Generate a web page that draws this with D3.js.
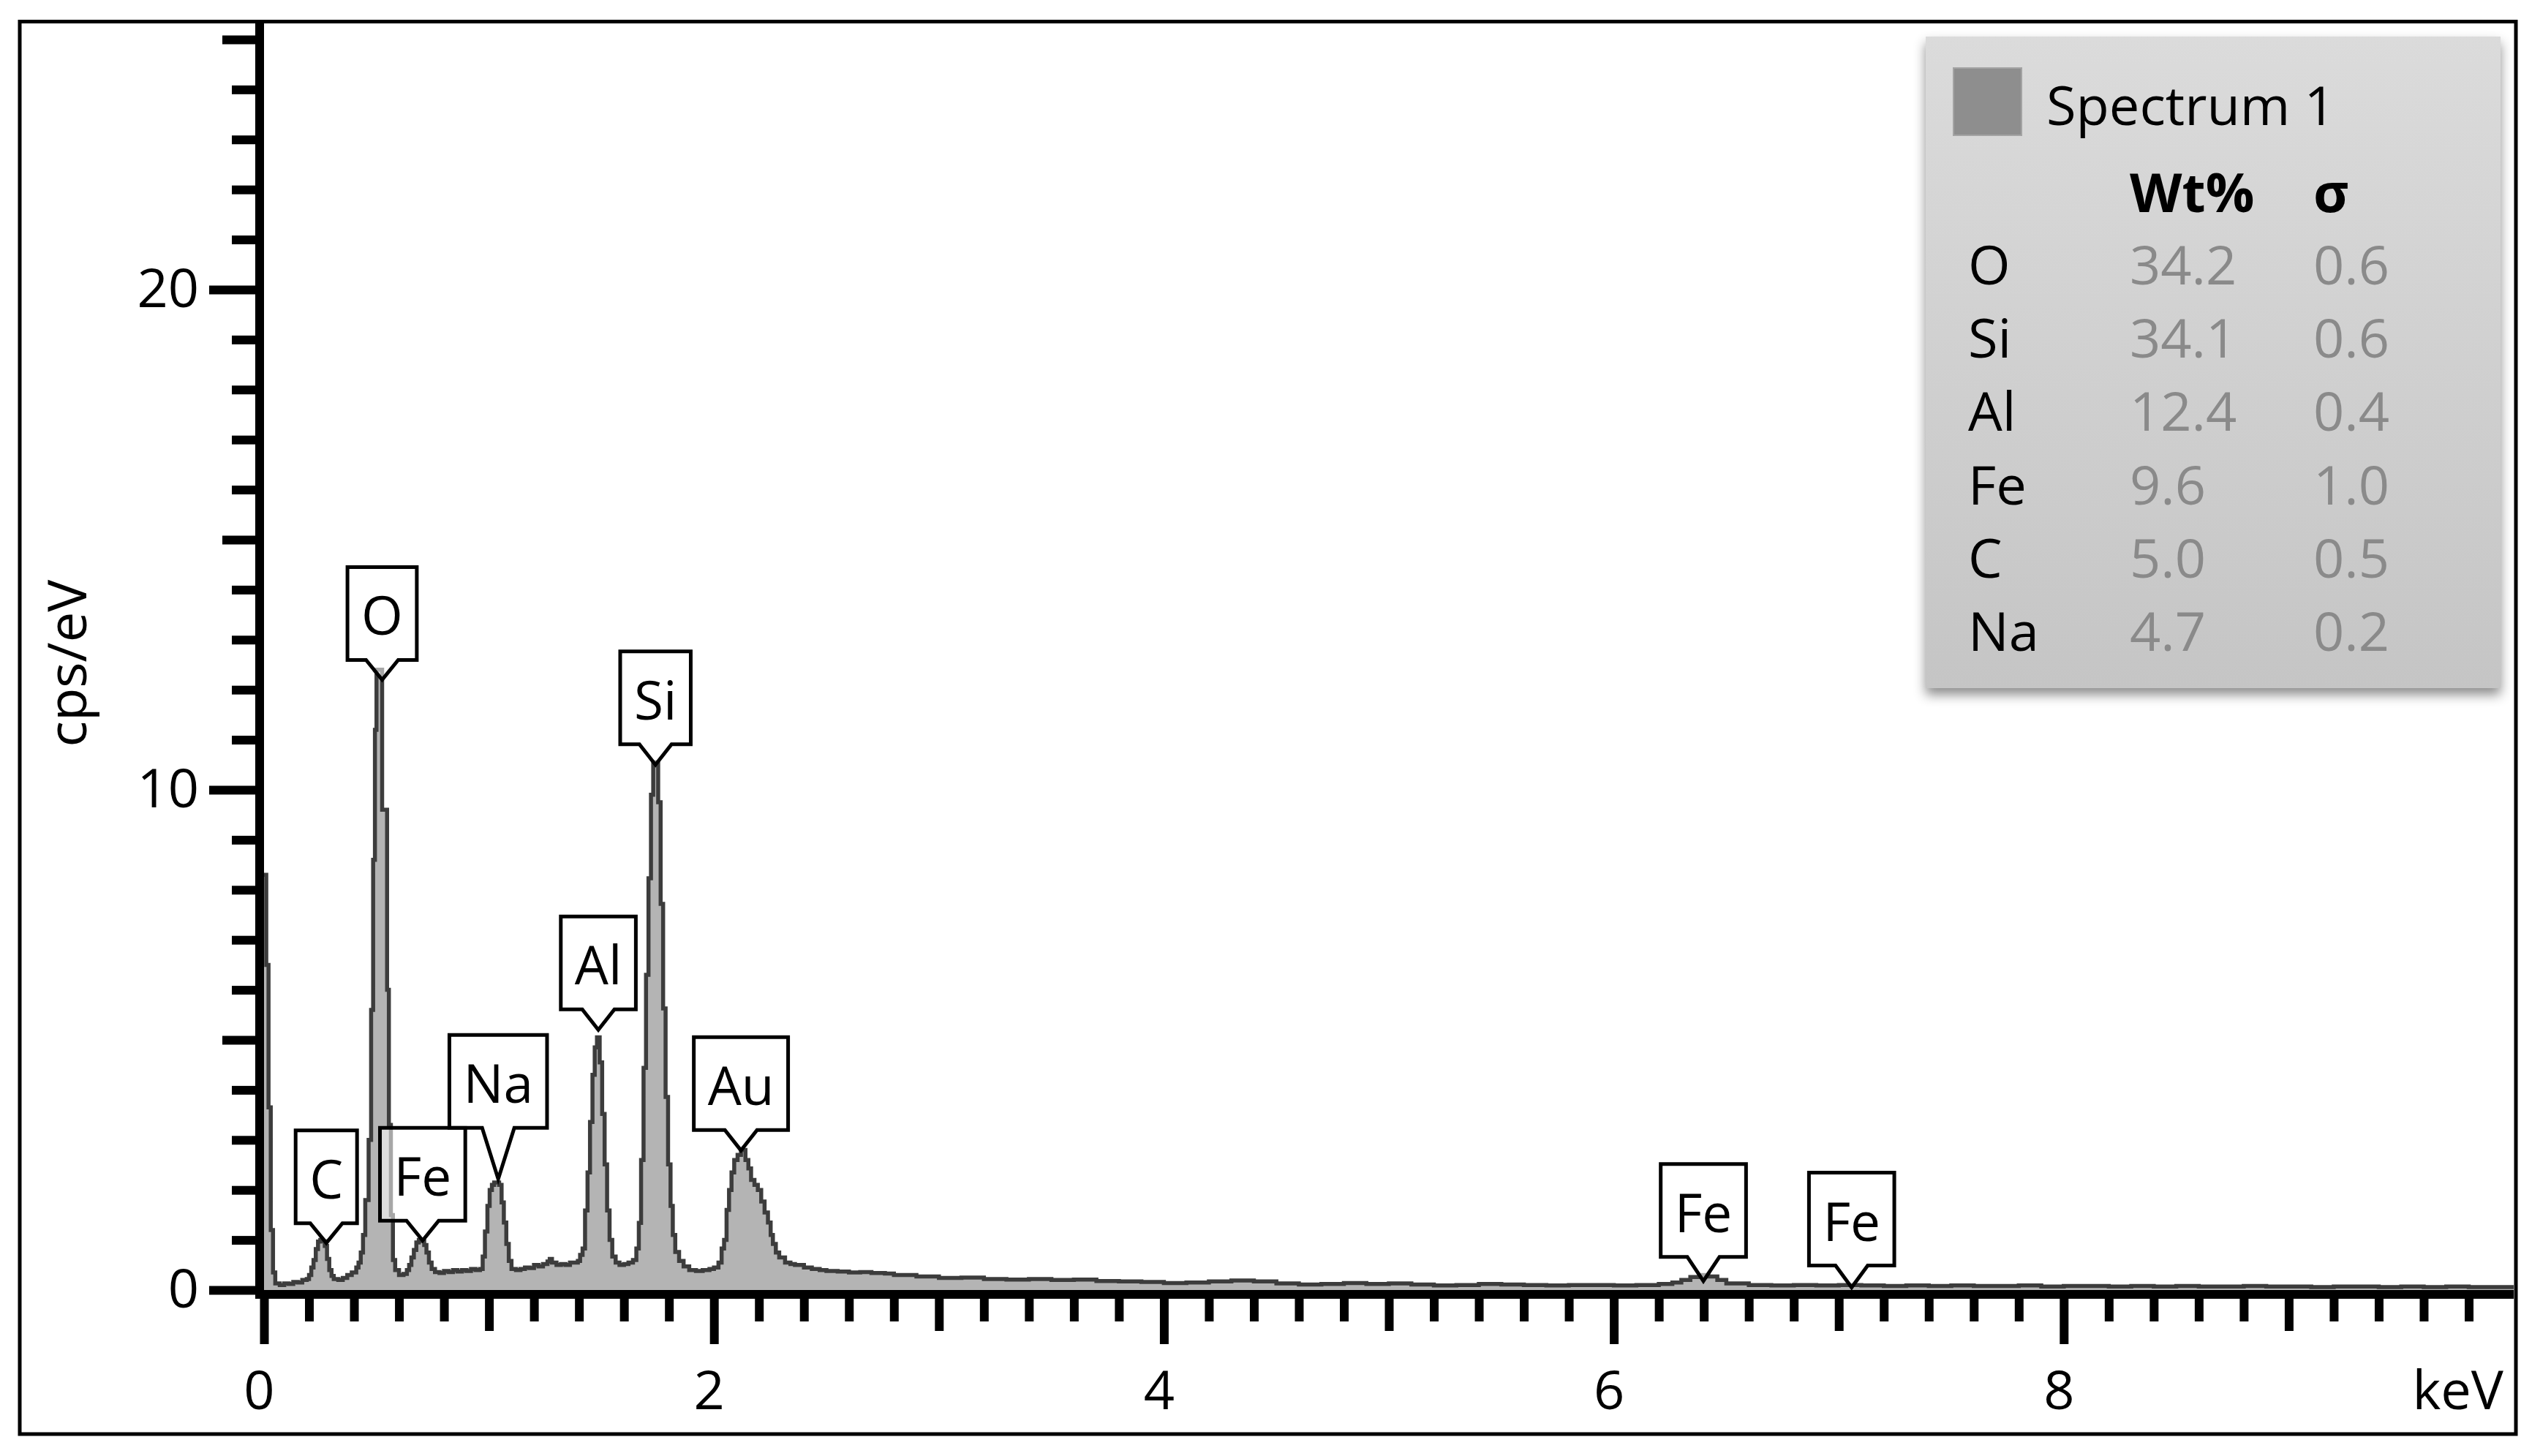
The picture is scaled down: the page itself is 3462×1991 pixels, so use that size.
<!DOCTYPE html>
<html>
<head>
<meta charset="utf-8">
<script src="https://cdn.jsdelivr.net/npm/d3@7"></script>
<style>
  html, body { margin: 0; padding: 0; background: #fff; }
  svg { display: block; font-family: "Open Sans", "Noto Sans", sans-serif; }
</style>
</head>
<body>
<div id="chart"></div>
<script>
// EDS spectrum, bin start energy (keV) and intensity (cps/eV)
const energy = [
  0.000, 0.010, 0.020, 0.030, 0.040, 0.050, 0.070, 0.090, 0.110, 0.130, 0.150, 0.170, 0.190,
  0.200, 0.210, 0.220, 0.230, 0.240, 0.250, 0.260, 0.270, 0.280, 0.290, 0.300, 0.310, 0.330,
  0.350, 0.370, 0.390, 0.410, 0.420, 0.430, 0.440, 0.450, 0.465, 0.476, 0.485, 0.493, 0.500,
  0.525, 0.547, 0.555, 0.564, 0.573, 0.583, 0.600, 0.620, 0.635, 0.645, 0.655, 0.666, 0.677,
  0.688, 0.700, 0.712, 0.722, 0.733, 0.745, 0.760, 0.780, 0.800, 0.820, 0.840, 0.860, 0.880,
  0.900, 0.920, 0.940, 0.960, 0.972, 0.982, 0.993, 1.003, 1.013, 1.023, 1.045, 1.056, 1.066,
  1.077, 1.088, 1.100, 1.120, 1.140, 1.160, 1.180, 1.200, 1.220, 1.240, 1.260, 1.270, 1.280,
  1.300, 1.320, 1.340, 1.360, 1.380, 1.395, 1.405, 1.416, 1.427, 1.438, 1.449, 1.460, 1.470,
  1.480, 1.492, 1.503, 1.514, 1.525, 1.536, 1.548, 1.563, 1.580, 1.600, 1.620, 1.640, 1.655,
  1.666, 1.676, 1.687, 1.698, 1.709, 1.720, 1.730, 1.752, 1.763, 1.774, 1.785, 1.796, 1.807,
  1.817, 1.828, 1.845, 1.865, 1.890, 1.920, 1.950, 1.980, 2.000, 2.020, 2.034, 2.045, 2.056,
  2.067, 2.078, 2.090, 2.105, 2.120, 2.140, 2.153, 2.165, 2.180, 2.195, 2.210, 2.225, 2.240,
  2.252, 2.262, 2.275, 2.290, 2.316, 2.340, 2.360, 2.400, 2.435, 2.470, 2.500, 2.550, 2.600,
  2.650, 2.700, 2.760, 2.800, 2.900, 3.000, 3.100, 3.200, 3.300, 3.400, 3.500, 3.600, 3.700,
  3.800, 3.900, 4.000, 4.100, 4.200, 4.300, 4.400, 4.500, 4.600, 4.700, 4.800, 4.900, 5.000,
  5.100, 5.200, 5.300, 5.400, 5.500, 5.600, 5.700, 5.800, 5.900, 6.000, 6.100, 6.200, 6.260,
  6.300, 6.340, 6.380, 6.420, 6.460, 6.500, 6.600, 6.700, 6.800, 6.900, 7.000, 7.100, 7.200,
  7.300, 7.400, 7.500, 7.600, 7.700, 7.800, 7.900, 8.000, 8.100, 8.200, 8.300, 8.400, 8.500,
  8.600, 8.700, 8.800, 8.900, 9.000, 9.100, 9.200, 9.300, 9.400, 9.500, 9.600, 9.700, 9.800,
  9.900
];
const counts = [
  8.30, 6.50, 3.65, 1.20, 0.35, 0.13, 0.10, 0.13, 0.12, 0.16, 0.15, 0.20, 0.22,
  0.30, 0.45, 0.60, 0.82, 0.97, 1.00, 0.98, 0.88, 0.62, 0.40, 0.28, 0.22, 0.20,
  0.24, 0.30, 0.35, 0.45, 0.55, 0.75, 1.10, 1.80, 3.00, 5.60, 8.60, 11.20, 12.40,
  9.60, 6.00, 3.30, 1.50, 0.60, 0.40, 0.30, 0.32, 0.40, 0.50, 0.65, 0.80, 0.95,
  1.00, 0.98, 0.90, 0.75, 0.55, 0.42, 0.36, 0.34, 0.38, 0.36, 0.40, 0.37, 0.40,
  0.38, 0.42, 0.40, 0.42, 0.67, 1.17, 1.68, 2.00, 2.10, 2.15, 2.10, 1.75, 1.35,
  0.92, 0.58, 0.42, 0.40, 0.42, 0.45, 0.44, 0.50, 0.47, 0.52, 0.57, 0.62, 0.55,
  0.50, 0.52, 0.50, 0.55, 0.55, 0.58, 0.70, 0.83, 1.59, 2.35, 3.36, 4.30, 4.85,
  5.05, 4.55, 3.52, 2.51, 1.59, 1.00, 0.67, 0.55, 0.50, 0.52, 0.55, 0.60, 0.83,
  1.34, 2.60, 4.44, 6.30, 8.23, 9.90, 10.55, 9.75, 7.72, 5.63, 3.86, 2.51, 1.68,
  1.10, 0.76, 0.58, 0.47, 0.40, 0.38, 0.40, 0.42, 0.45, 0.55, 0.83, 1.00, 1.60,
  2.00, 2.35, 2.60, 2.70, 2.80, 2.60, 2.43, 2.20, 2.10, 2.00, 1.77, 1.55, 1.35,
  1.10, 0.92, 0.75, 0.65, 0.55, 0.52, 0.50, 0.45, 0.42, 0.40, 0.38, 0.37, 0.35,
  0.36, 0.34, 0.33, 0.30, 0.27, 0.24, 0.25, 0.22, 0.21, 0.22, 0.20, 0.21, 0.18,
  0.17, 0.16, 0.14, 0.15, 0.17, 0.19, 0.17, 0.13, 0.11, 0.12, 0.14, 0.12, 0.13,
  0.11, 0.09, 0.10, 0.12, 0.11, 0.10, 0.09, 0.10, 0.10, 0.09, 0.10, 0.12, 0.15,
  0.20, 0.26, 0.30, 0.27, 0.20, 0.13, 0.10, 0.09, 0.10, 0.09, 0.10, 0.09, 0.08,
  0.09, 0.08, 0.09, 0.08, 0.08, 0.09, 0.07, 0.08, 0.08, 0.07, 0.08, 0.07, 0.08,
  0.07, 0.07, 0.08, 0.07, 0.07, 0.06, 0.07, 0.07, 0.06, 0.07, 0.06, 0.07, 0.06,
  0.06
];

// peak markers
const peakNames = ['C', 'O', 'Fe', 'Na', 'Al', 'Si', 'Au', 'Fe', 'Fe'];
const peakEnergy = [0.277, 0.525, 0.705, 1.041, 1.486, 1.740, 2.120, 6.398, 7.057];
const peakTop = [0.94, 12.2, 0.99, 2.22, 5.2, 10.5, 2.79, 0.18, 0.05];

// quantification table
const seriesName = 'Spectrum 1';
const elements = ['O', 'Si', 'Al', 'Fe', 'C', 'Na'];
const wtPercent = ['34.2', '34.1', '12.4', '9.6', '5.0', '4.7'];
const sigma = ['0.6', '0.6', '0.4', '1.0', '0.5', '0.2'];

const xLabels = [0, 2, 4, 6, 8];
const yLabels = [0, 10, 20];

const W = 3462, H = 1991;
const FONT = 74;

const svg = d3.select('#chart').append('svg')
  .attr('width', W)
  .attr('height', H);

const defs = svg.append('defs');
const grad = defs.append('linearGradient').attr('id', 'legendFill')
  .attr('x1', 0).attr('y1', 0).attr('x2', 0).attr('y2', 1);
grad.append('stop').attr('offset', '0%').attr('stop-color', '#dbdbdb');
grad.append('stop').attr('offset', '100%').attr('stop-color', '#c5c5c5');
defs.append('filter').attr('id', 'shadow')
  .attr('x', '-10%').attr('y', '-10%').attr('width', '120%').attr('height', '125%')
  .append('feDropShadow')
  .attr('dx', 0).attr('dy', 9).attr('stdDeviation', 8)
  .attr('flood-color', '#000').attr('flood-opacity', 0.45);

// scales
const x = d3.scaleLinear().domain([0, 10]).range([361, 3437]);
const y = d3.scaleLinear().domain([0, 25.35]).range([1764, 30]);

// spectrum
const spectrum = energy.map((e, i) => ({e: e, v: counts[i]}));
spectrum.push({e: 10, v: counts[counts.length - 1]});

const area = d3.area()
  .x(d => x(d.e))
  .y0(y(0))
  .y1(d => y(d.v))
  .curve(d3.curveStepAfter);
const line = d3.line()
  .x(d => x(d.e))
  .y(d => y(d.v))
  .curve(d3.curveStepAfter);

svg.append('path')
  .datum(spectrum)
  .attr('d', area)
  .attr('fill', '#b4b4b4');
svg.append('path')
  .datum(spectrum)
  .attr('d', line)
  .attr('fill', 'none')
  .attr('stroke', '#3c3c3c')
  .attr('stroke-width', 5.5)
  .attr('stroke-linejoin', 'miter');

// outer frame
svg.append('rect')
  .attr('x', 27).attr('y', 29.5)
  .attr('width', 3413).attr('height', 1931.5)
  .attr('fill', 'none')
  .attr('stroke', '#000')
  .attr('stroke-width', 5);

// y axis
const yAxis = d3.axisLeft(y)
  .tickValues(d3.range(0, 26))
  .tickSize(32)
  .tickFormat(d => yLabels.includes(d) ? d : '');
const gy = svg.append('g')
  .attr('transform', 'translate(349,0)')
  .call(yAxis);
gy.select('.domain').remove();
gy.attr('font-size', FONT).attr('font-family', null);
gy.selectAll('.tick line')
  .attr('stroke', '#000')
  .attr('stroke-width', 12)
  .attr('x2', d => d % 10 === 0 ? -63 : (d % 5 === 0 ? -45 : -32));
gy.selectAll('.tick text')
  .attr('x', -77)
  .attr('fill', '#000');

// x axis
const xAxis = d3.axisBottom(x)
  .tickValues(d3.range(0, 50).map(i => i / 5))
  .tickSize(31)
  .tickFormat(d => xLabels.includes(d) ? d : '');
const gx = svg.append('g')
  .attr('transform', 'translate(0,1776)')
  .call(xAxis);
gx.select('.domain').remove();
gx.attr('font-size', FONT).attr('font-family', null);
gx.selectAll('.tick line')
  .attr('stroke', '#000')
  .attr('stroke-width', 12)
  .attr('y2', d => Number.isInteger(d) ? (d % 2 === 0 ? 62 : 44) : 31);
gx.selectAll('.tick text')
  .attr('y', 151)
  .attr('dy', 0)
  .attr('dx', -7)
  .attr('fill', '#000');

// heavy axis lines
svg.append('line')
  .attr('x1', 355).attr('x2', 355)
  .attr('y1', 29).attr('y2', 1776)
  .attr('stroke', '#000').attr('stroke-width', 12);
svg.append('line')
  .attr('x1', 349).attr('x2', x(10))
  .attr('y1', 1770).attr('y2', 1770)
  .attr('stroke', '#000').attr('stroke-width', 12);

// axis titles
svg.append('text')
  .attr('x', 3423).attr('y', 1927)
  .attr('text-anchor', 'end')
  .attr('font-size', FONT)
  .text('keV');
svg.append('text')
  .attr('transform', 'translate(118,907) rotate(-90)')
  .attr('text-anchor', 'middle')
  .attr('font-size', FONT)
  .text('cps/eV');

// peak callouts
const lift = [27, 27, 27, 70, 28, 28, 28, 33, 30];
const notch = 22, pad = 19, boxH = 127;
peakNames.forEach((name, i) => {
  const tx = x(peakEnergy[i]);
  const ty = y(peakTop[i]);
  const g = svg.append('g');
  const path = g.append('path');
  const label = g.append('text')
    .attr('x', tx)
    .attr('text-anchor', 'middle')
    .attr('font-size', 73)
    .text(name);
  const w = label.node().getComputedTextLength() + 2 * pad;
  const bottom = ty - lift[i];
  const top = bottom - boxH;
  const left = tx - w / 2, right = tx + w / 2;
  path.attr('d', `M${left},${top}H${right}V${bottom}H${tx + notch}L${tx},${ty}L${tx - notch},${bottom}H${left}Z`)
    .attr('fill', '#fff')
    .attr('fill-opacity', 0.55)
    .attr('stroke', '#000')
    .attr('stroke-width', 5)
    .attr('stroke-linejoin', 'miter');
  label.attr('y', bottom - 34);
});

// legend / quantification panel
const lg = svg.append('g');
lg.append('rect')
  .attr('x', 2633).attr('y', 50)
  .attr('width', 786).attr('height', 891)
  .attr('fill', 'url(#legendFill)')
  .attr('filter', 'url(#shadow)');
lg.append('rect')
  .attr('x', 2671).attr('y', 93)
  .attr('width', 93).attr('height', 92)
  .attr('fill', '#8e8e8e')
  .attr('stroke', '#a3a3a3')
  .attr('stroke-width', 2);
lg.append('text')
  .attr('x', 2798).attr('y', 171)
  .attr('font-size', FONT)
  .text(seriesName);
lg.append('text')
  .attr('x', 2912).attr('y', 290)
  .attr('font-size', FONT).attr('font-weight', 'bold')
  .text('Wt%');
lg.append('text')
  .attr('x', 3163).attr('y', 290)
  .attr('font-size', FONT).attr('font-weight', 'bold')
  .text('σ');
const rowY = d3.scaleLinear().domain([0, 1]).range([389, 489.2]);
elements.forEach((el, i) => {
  lg.append('text').attr('x', 2691).attr('y', rowY(i))
    .attr('font-size', FONT).attr('fill', '#000').text(el);
  lg.append('text').attr('x', 2912).attr('y', rowY(i))
    .attr('font-size', FONT).attr('fill', '#8a8a8a').text(wtPercent[i]);
  lg.append('text').attr('x', 3163).attr('y', rowY(i))
    .attr('font-size', FONT).attr('fill', '#8a8a8a').text(sigma[i]);
});
</script>
</body>
</html>
